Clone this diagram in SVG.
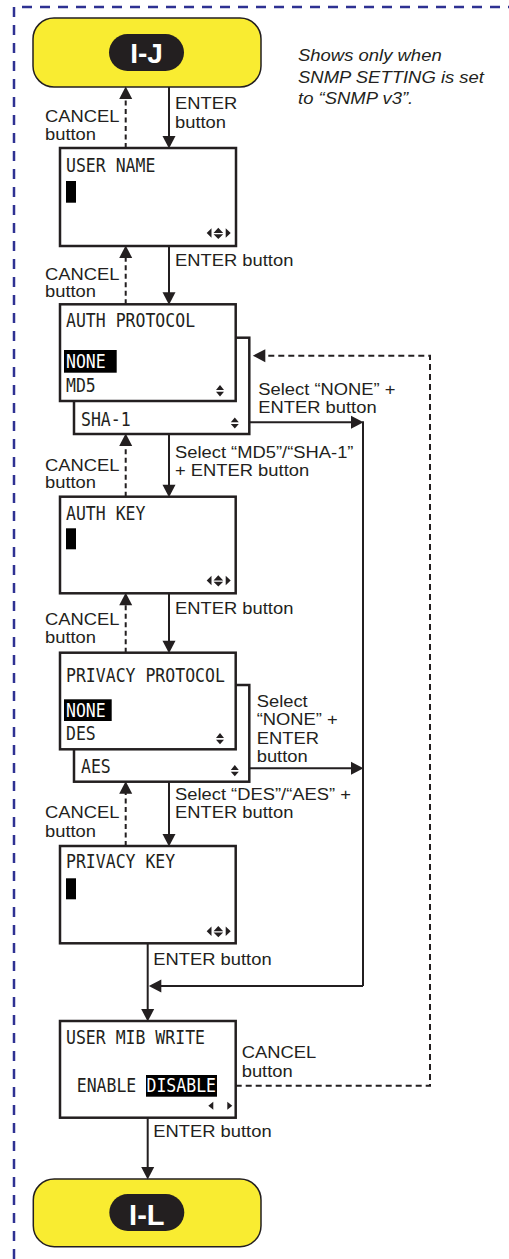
<svg xmlns="http://www.w3.org/2000/svg" width="509" height="1259" viewBox="0 0 509 1259">
<defs>
<style>
.lbl{font-family:"Liberation Sans",Arial,sans-serif;font-size:17px;fill:#231f20}
.note{font-family:"Liberation Sans",Arial,sans-serif;font-size:16.5px;font-style:italic;fill:#231f20}
.lcd{font-family:"DejaVu Sans Mono",monospace;font-size:16.5px;fill:#231f20}
.inv{fill:#ffffff}
.scr{fill:#ffffff;stroke:#231f20;stroke-width:2.5}
.term{fill:#f9ec31;stroke:#231f20;stroke-width:1.5}
.pill{fill:#231f20}
.pilltxt{font-family:"Liberation Sans",Arial,sans-serif;font-weight:bold;fill:#ffffff;text-anchor:middle}
.solid{fill:none;stroke:#231f20;stroke-width:2}
.cancel{fill:none;stroke:#231f20;stroke-width:2;stroke-dasharray:5 3.5}
.ret{fill:none;stroke:#231f20;stroke-width:2;stroke-dasharray:6 4}
.ico{fill:#231f20}
.cur{fill:#000000}
</style>
<marker id="ah" markerUnits="userSpaceOnUse" markerWidth="13" markerHeight="13" refX="8" refY="6.5" orient="auto" overflow="visible">
<path d="M0,0 L12.5,6.5 L0,13 Z" fill="#231f20"/>
</marker>
</defs>

<path d="M14,1259 V7 H509" fill="none" stroke="#2e3192" stroke-width="2.5" stroke-dasharray="10 8"/>

<g id="note">
<text class="note" transform="translate(298,61) scale(1.12,1)">Shows only when</text>
<text class="note" transform="translate(298,82.7) scale(1.12,1)">SNMP SETTING is set</text>
<text class="note" transform="translate(298,104.3) scale(1.12,1)">to “SNMP v3”.</text>
</g>

<g id="node-IJ">
<rect class="term" x="33" y="18" width="228" height="69" rx="21"/>
<rect class="pill" x="109" y="34" width="75" height="37" rx="18.5"/>
<text class="pilltxt" x="146.5" y="63.3" font-size="28">I-J</text>
</g>

<g id="node-user-name">
<rect class="scr" x="60" y="148" width="176" height="98"/>
<text class="lcd" transform="translate(66,171.7) scale(1,1.2)">USER NAME</text>
<rect class="cur" x="66" y="181" width="10" height="21.7"/>
<path class="ico" d="M211.5,228.3 V237.7 L206.7,233 Z M213.5,233 L218.3,227.7 L223.2,233 Z M213.5,234.2 L223.2,234.2 L218.3,239 Z M225.7,228.3 V237.7 L230.7,233 Z"/>
</g>

<g id="node-auth-protocol">
<rect class="scr" x="74" y="337.7" width="175.3" height="96.3"/>
<rect class="scr" x="60" y="304.3" width="175.7" height="96.7"/>
<text class="lcd" transform="translate(66,326.7) scale(1,1.2)">AUTH PROTOCOL</text>
<rect class="cur" x="64" y="350" width="52.7" height="22.7"/>
<text class="lcd inv" transform="translate(66,368.3) scale(1,1.2)">NONE</text>
<text class="lcd" transform="translate(66,392.3) scale(1,1.2)">MD5</text>
<path class="ico" d="M216,390 L220,385 L224,390 Z M216,391.7 L224,391.7 L220,396.5 Z"/>
<text class="lcd" transform="translate(81,425.7) scale(1,1.2)">SHA-1</text>
<path class="ico" d="M230.8,422.3 L234.8,417.5 L238.8,422.3 Z M230.8,424 L238.8,424 L234.8,428.5 Z"/>
</g>

<g id="node-auth-key">
<rect class="scr" x="60" y="496.7" width="175.7" height="96.6"/>
<text class="lcd" transform="translate(66,520) scale(1,1.2)">AUTH KEY</text>
<rect class="cur" x="66" y="528.3" width="10" height="21"/>
<path class="ico" d="M211.5,575.8 V585.2 L206.7,580.5 Z M213.5,580.5 L218.3,575.2 L223.2,580.5 Z M213.5,581.7 L223.2,581.7 L218.3,586.5 Z M225.7,575.8 V585.2 L230.7,580.5 Z"/>
</g>

<g id="node-privacy-protocol">
<rect class="scr" x="74" y="685" width="175.3" height="96.7"/>
<rect class="scr" x="60" y="652.7" width="175.7" height="96.6"/>
<text class="lcd" transform="translate(66,681.7) scale(1,1.2)">PRIVACY PROTOCOL</text>
<rect class="cur" x="64" y="699.3" width="47.7" height="21.7"/>
<text class="lcd inv" transform="translate(66,716.7) scale(1,1.2)">NONE</text>
<text class="lcd" transform="translate(66,740) scale(1,1.2)">DES</text>
<path class="ico" d="M216,738 L220,733 L224,738 Z M216,739.7 L224,739.7 L220,744.3 Z"/>
<text class="lcd" transform="translate(81,773.3) scale(1,1.2)">AES</text>
<path class="ico" d="M230.8,770 L234.8,765 L238.8,770 Z M230.8,771.7 L238.8,771.7 L234.8,776.3 Z"/>
</g>

<g id="node-privacy-key">
<rect class="scr" x="60" y="846" width="175.7" height="97.3"/>
<text class="lcd" transform="translate(66,868.3) scale(1,1.2)">PRIVACY KEY</text>
<rect class="cur" x="66" y="878.3" width="10" height="21"/>
<path class="ico" d="M211.5,926.5 V935.9 L206.7,931.2 Z M213.5,931.2 L218.3,925.9 L223.2,931.2 Z M213.5,932.4 L223.2,932.4 L218.3,937.2 Z M225.7,926.5 V935.9 L230.7,931.2 Z"/>
</g>

<g id="node-user-mib-write">
<rect class="scr" x="60" y="1021" width="175.7" height="96.7"/>
<text class="lcd" transform="translate(66,1044.3) scale(1,1.2)">USER MIB WRITE</text>
<text class="lcd" transform="translate(76.7,1092.3) scale(1,1.2)">ENABLE</text>
<rect class="cur" x="146" y="1075" width="71" height="21.7"/>
<text class="lcd inv" transform="translate(146.5,1092.3) scale(1,1.2)">DISABLE</text>
<path class="ico" d="M213.3,1101.7 V1109.7 L208.3,1105.7 Z M227.3,1101.7 V1109.7 L232.3,1105.7 Z"/>
</g>

<g id="node-IL">
<rect class="term" x="33.3" y="1179" width="227.7" height="67.7" rx="21"/>
<rect class="pill" x="109.3" y="1194" width="75" height="37" rx="18.5"/>
<text class="pilltxt" x="146.8" y="1225" font-size="29">I-L</text>
</g>

<g id="connectors">
<line class="solid" x1="169" y1="87" x2="169" y2="144" marker-end="url(#ah)"/>
<line class="cancel" x1="125.7" y1="148" x2="125.7" y2="91" marker-end="url(#ah)"/>
<line class="solid" x1="169" y1="246" x2="169" y2="300.3" marker-end="url(#ah)"/>
<line class="cancel" x1="125.7" y1="304.3" x2="125.7" y2="250" marker-end="url(#ah)"/>
<line class="solid" x1="169" y1="434" x2="169" y2="492.7" marker-end="url(#ah)"/>
<line class="cancel" x1="125.7" y1="496.7" x2="125.7" y2="438" marker-end="url(#ah)"/>
<line class="solid" x1="249.3" y1="422.3" x2="359" y2="422.3" marker-end="url(#ah)"/>
<path class="solid" d="M363,421.3 V986"/>
<line class="solid" x1="169" y1="593.3" x2="169" y2="648.7" marker-end="url(#ah)"/>
<line class="cancel" x1="125.7" y1="652.7" x2="125.7" y2="597.3" marker-end="url(#ah)"/>
<line class="solid" x1="249.3" y1="768.3" x2="359" y2="768.3" marker-end="url(#ah)"/>
<line class="solid" x1="169" y1="781.7" x2="169" y2="842" marker-end="url(#ah)"/>
<line class="cancel" x1="125.7" y1="846" x2="125.7" y2="785.7" marker-end="url(#ah)"/>
<line class="solid" x1="147.7" y1="943.3" x2="147.7" y2="1017" marker-end="url(#ah)"/>
<line class="solid" x1="363" y1="986" x2="153.3" y2="986" marker-end="url(#ah)"/>
<path class="ret" d="M235.7,1085.7 H430 V355.7 H257.3" marker-end="url(#ah)"/>
<line class="solid" x1="147.7" y1="1117.7" x2="147.7" y2="1175" marker-end="url(#ah)"/>
</g>

<g id="labels">
<text class="lbl" transform="translate(175,109) scale(1.08,1)">ENTER</text>
<text class="lbl" transform="translate(175,127.5) scale(1.08,1)">button</text>
<text class="lbl" transform="translate(45,122.3) scale(1.08,1)">CANCEL</text>
<text class="lbl" transform="translate(45,140) scale(1.08,1)">button</text>
<text class="lbl" transform="translate(175,265.7) scale(1.08,1)">ENTER button</text>
<text class="lbl" transform="translate(45,279.5) scale(1.08,1)">CANCEL</text>
<text class="lbl" transform="translate(45,297) scale(1.08,1)">button</text>
<text class="lbl" transform="translate(258.3,395) scale(1.08,1)">Select “NONE” +</text>
<text class="lbl" transform="translate(258.3,413.3) scale(1.08,1)">ENTER button</text>
<text class="lbl" transform="translate(175,457.7) scale(1.08,1)">Select “MD5”/“SHA-1”</text>
<text class="lbl" transform="translate(175,476.3) scale(1.08,1)">+ ENTER button</text>
<text class="lbl" transform="translate(45,470.7) scale(1.08,1)">CANCEL</text>
<text class="lbl" transform="translate(45,488.3) scale(1.08,1)">button</text>
<text class="lbl" transform="translate(175,614.3) scale(1.08,1)">ENTER button</text>
<text class="lbl" transform="translate(45,625) scale(1.08,1)">CANCEL</text>
<text class="lbl" transform="translate(45,643.3) scale(1.08,1)">button</text>
<text class="lbl" transform="translate(256.7,706.7) scale(1.08,1)">Select</text>
<text class="lbl" transform="translate(256.7,725) scale(1.08,1)">“NONE” +</text>
<text class="lbl" transform="translate(256.7,744) scale(1.08,1)">ENTER</text>
<text class="lbl" transform="translate(256.7,762.3) scale(1.08,1)">button</text>
<text class="lbl" transform="translate(175,800) scale(1.08,1)">Select “DES”/“AES” +</text>
<text class="lbl" transform="translate(175,818.3) scale(1.08,1)">ENTER button</text>
<text class="lbl" transform="translate(45,818.3) scale(1.08,1)">CANCEL</text>
<text class="lbl" transform="translate(45,836.7) scale(1.08,1)">button</text>
<text class="lbl" transform="translate(153.3,965) scale(1.08,1)">ENTER button</text>
<text class="lbl" transform="translate(241.7,1058.3) scale(1.08,1)">CANCEL</text>
<text class="lbl" transform="translate(241.7,1076.7) scale(1.08,1)">button</text>
<text class="lbl" transform="translate(153.3,1136.7) scale(1.08,1)">ENTER button</text>
</g>
</svg>
